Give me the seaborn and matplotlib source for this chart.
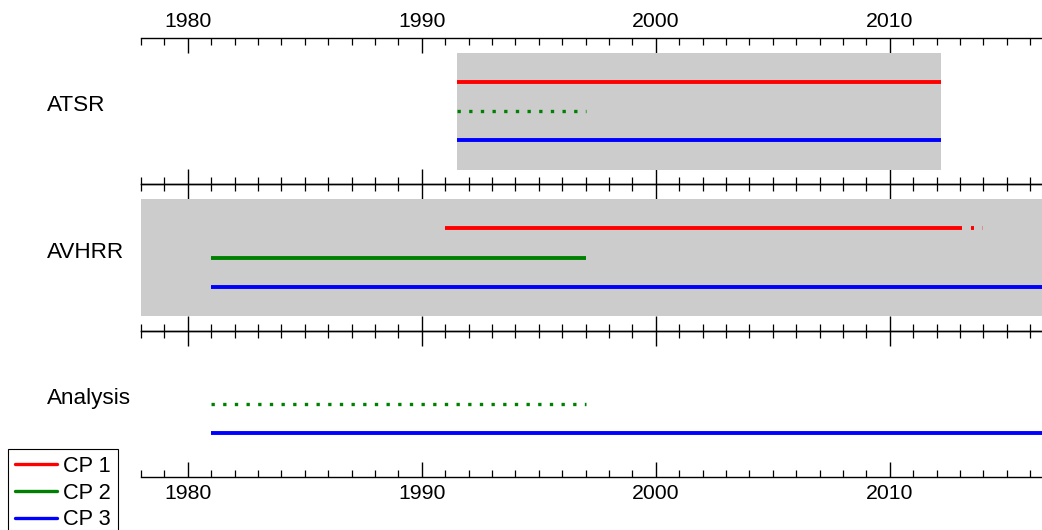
import pandas as pd
import seaborn as sns
import matplotlib.pyplot as plt
from matplotlib.lines import Line2D
from matplotlib.ticker import MultipleLocator
from matplotlib.transforms import blended_transform_factory

# data: which CP is available when, per source
panels = ['ATSR', 'AVHRR', 'Analysis']
cp_names = ['CP 1', 'CP 2', 'CP 3']

atsr_start = [1991.5, 1991.5, 1991.5]
atsr_end = [2012.2, 1997.0, 2012.2]
atsr_kind = ['solid', 'dotted', 'solid']

avhrr_start = [1991.0, 1981.0, 1981.0]
avhrr_end = [2013.1, 1997.0, 2017.0]
avhrr_kind = ['solid', 'solid', 'solid']

analysis_start = [None, 1981.0, 1981.0]
analysis_end = [None, 1997.0, 2017.0]
analysis_kind = [None, 'dotted', 'solid']

# short red bits after the AVHRR CP 1 line
avhrr_tail_start = [2013.45, 2013.93]
avhrr_tail_end = [2013.58, 2014.0]
avhrr_tail_alpha = [1.0, 0.3]

# grey coverage boxes
cover_start = [1991.5, 1978.0, None]
cover_end = [2012.2, 2017.0, None]

x_min, x_max = 1978.0, 2016.5

# build long table of segments
rows = []
seg = 0
for p, starts, ends, kinds in [('ATSR', atsr_start, atsr_end, atsr_kind),
                               ('AVHRR', avhrr_start, avhrr_end, avhrr_kind),
                               ('Analysis', analysis_start, analysis_end, analysis_kind)]:
    for i, cp in enumerate(cp_names):
        if starts[i] is None:
            continue
        ypos = 0.3 + 0.2 * i
        rows.append(dict(panel=p, cp=cp, kind=kinds[i], seg=seg, year=starts[i], ypos=ypos))
        rows.append(dict(panel=p, cp=cp, kind=kinds[i], seg=seg, year=ends[i], ypos=ypos))
        seg += 1
df = pd.DataFrame(rows)

colors = {'CP 1': '#ff0000', 'CP 2': '#008000', 'CP 3': '#0000ff'}
dash_map = {'solid': '', 'dotted': (1, 2.5)}
width_map = {'solid': 2.8, 'dotted': 2.4}

sns.set_theme(style='white', rc={'axes.edgecolor': 'black', 'xtick.color': 'black',
                                 'text.color': 'black', 'axes.linewidth': 1.0})
plt.rcParams['font.family'] = ['Liberation Sans', 'DejaVu Sans']

fig = plt.figure(figsize=(10.42, 5.30), dpi=100)
left, right = 141 / 1042, 1.0
bottom, top = 0.1, 1 - 38 / 530
h = (top - bottom) / 3

for k, name in enumerate(panels):
    ax = fig.add_axes([left, top - (k + 1) * h, right - left, h])
    ax.set_facecolor('none')

    if cover_start[k] is not None:
        ax.fill_between([cover_start[k], cover_end[k]], 0.1, 0.9, color='#cccccc', lw=0)

    sub = df[df['panel'] == name]
    sns.lineplot(data=sub, x='year', y='ypos', hue='cp', style='kind', size='kind',
                 units='seg', estimator=None, palette=colors, dashes=dash_map,
                 sizes=width_map, solid_capstyle='butt', legend=False, ax=ax)

    if name == 'AVHRR':
        for s, e, a in zip(avhrr_tail_start, avhrr_tail_end, avhrr_tail_alpha):
            sns.lineplot(x=[s, e], y=[0.3, 0.3], color='#ff0000', linewidth=2.8,
                         alpha=a, solid_capstyle='butt', ax=ax)

    ax.set_xlim(x_min, x_max)
    ax.set_ylim(1, 0)
    ax.set_xlabel('')
    ax.set_ylabel('')
    ax.set_yticks([])
    for side in ['left', 'right']:
        ax.spines[side].set_visible(False)

    ax.xaxis.set_major_locator(MultipleLocator(10))
    ax.xaxis.set_minor_locator(MultipleLocator(1))
    ax.tick_params(axis='x', which='both', direction='in', top=True, bottom=True,
                   labeltop=(k == 0), labelbottom=(k == 2), labelsize=15.3, pad=5)
    ax.tick_params(axis='x', which='major', length=10.8, width=1.0)
    ax.tick_params(axis='x', which='minor', length=4.8, width=0.9)

    trans = blended_transform_factory(fig.transFigure, ax.transAxes)
    ax.text(47 / 1042, 0.5, name, transform=trans, fontsize=16.2,
            ha='left', va='baseline')

handles = [Line2D([], [], color=colors[c], lw=2.4) for c in cp_names]
leg = fig.legend(handles, cp_names, loc='upper left',
                 bbox_to_anchor=(8 / 1042, 1 - 449 / 530), bbox_transform=fig.transFigure,
                 frameon=True, fancybox=False, edgecolor='black', framealpha=1,
                 borderaxespad=0, fontsize=15.7, handlelength=1.95, handletextpad=0.25,
                 borderpad=0.32, labelspacing=0.26)
leg.get_frame().set_linewidth(0.8)

fig.savefig('out.png', dpi=100)
